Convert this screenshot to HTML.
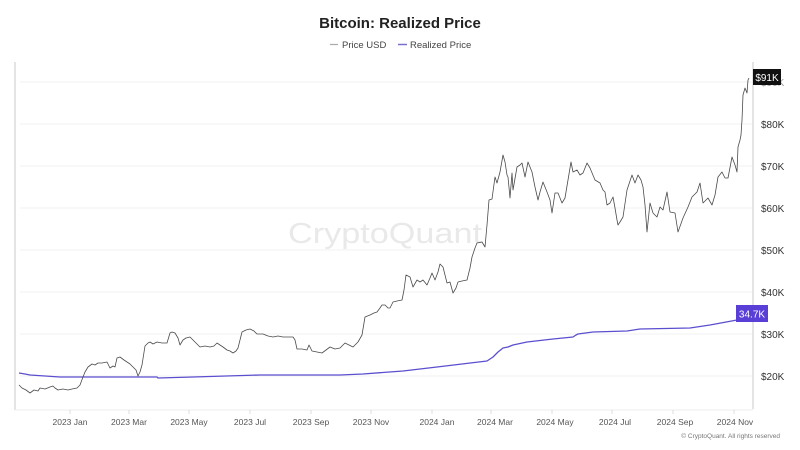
<!DOCTYPE html>
<html>
<head>
<meta charset="utf-8">
<style>
  html, body { margin: 0; padding: 0; background: #ffffff; }
  body { width: 800px; height: 450px; overflow: hidden; }
  svg { display: block; }
  text { font-family: "Liberation Sans", Arial, sans-serif; }
</style>
</head>
<body>
<svg width="800" height="450" viewBox="0 0 800 450" xmlns="http://www.w3.org/2000/svg">
  <rect x="0" y="0" width="800" height="450" fill="#ffffff"/>

  <!-- Title -->
  <text x="400" y="28" text-anchor="middle" font-size="15" font-weight="bold" fill="#222222">Bitcoin: Realized Price</text>

  <!-- Legend -->
  <line x1="330" y1="44.5" x2="338" y2="44.5" stroke="#aaaaaa" stroke-width="1.2"/>
  <text x="342" y="48" font-size="9.5" fill="#444444">Price USD</text>
  <line x1="398" y1="44.5" x2="407" y2="44.5" stroke="#7a70c9" stroke-width="1.5"/>
  <text x="410" y="48" font-size="9.5" fill="#444444">Realized Price</text>

  <!-- Grid lines -->
  <g stroke="#f1f1f1" stroke-width="1">
    <line x1="20" y1="82" x2="752" y2="82"/>
    <line x1="20" y1="124" x2="752" y2="124"/>
    <line x1="20" y1="166" x2="752" y2="166"/>
    <line x1="20" y1="208" x2="752" y2="208"/>
    <line x1="20" y1="250" x2="752" y2="250"/>
    <line x1="20" y1="292" x2="752" y2="292"/>
    <line x1="20" y1="334" x2="752" y2="334"/>
    <line x1="20" y1="376" x2="752" y2="376"/>
  </g>

  <!-- Plot borders -->
  <line x1="15" y1="62" x2="15" y2="410" stroke="#e4e4e4" stroke-width="2"/>
  <line x1="753" y1="62" x2="753" y2="409" stroke="#e4e4e4" stroke-width="2"/>
  <line x1="15" y1="410" x2="753" y2="410" stroke="#ececec" stroke-width="1"/>

  <!-- X ticks -->
  <g stroke="#dddddd" stroke-width="1">
    <line x1="70" y1="410" x2="70" y2="414"/>
    <line x1="129" y1="410" x2="129" y2="414"/>
    <line x1="189" y1="410" x2="189" y2="414"/>
    <line x1="250" y1="410" x2="250" y2="414"/>
    <line x1="311" y1="410" x2="311" y2="414"/>
    <line x1="371" y1="410" x2="371" y2="414"/>
    <line x1="432" y1="410" x2="432" y2="414"/>
    <line x1="491" y1="410" x2="491" y2="414"/>
    <line x1="552" y1="410" x2="552" y2="414"/>
    <line x1="612" y1="410" x2="612" y2="414"/>
    <line x1="673" y1="410" x2="673" y2="414"/>
    <line x1="734" y1="410" x2="734" y2="414"/>
  </g>

  <!-- X labels -->
  <g font-size="8.5" fill="#555555" text-anchor="middle">
    <text x="70" y="425">2023 Jan</text>
    <text x="129" y="425">2023 Mar</text>
    <text x="189" y="425">2023 May</text>
    <text x="250" y="425">2023 Jul</text>
    <text x="311" y="425">2023 Sep</text>
    <text x="371" y="425">2023 Nov</text>
    <text x="437" y="425">2024 Jan</text>
    <text x="495" y="425">2024 Mar</text>
    <text x="555" y="425">2024 May</text>
    <text x="615" y="425">2024 Jul</text>
    <text x="675" y="425">2024 Sep</text>
    <text x="735" y="425">2024 Nov</text>
  </g>

  <!-- Copyright -->
  <text x="780" y="438" text-anchor="end" font-size="6.5" fill="#777777">© CryptoQuant. All rights reserved</text>

  <!-- Y labels -->
  <g font-size="10" fill="#333333">
    <text x="761" y="128">$80K</text>
    <text x="761" y="170">$70K</text>
    <text x="761" y="212">$60K</text>
    <text x="761" y="254">$50K</text>
    <text x="761" y="296">$40K</text>
    <text x="761" y="338">$30K</text>
    <text x="761" y="380">$20K</text>
    <text x="761" y="86" fill="#999999">$90K</text>
  </g>

  <!-- Watermark -->
  <text x="288" y="243" font-size="29" fill="#e9e9e9" textLength="194" lengthAdjust="spacingAndGlyphs">CryptoQuant</text>

  <!-- Realized price line -->
  <polyline fill="none" stroke="#5b4fcf" stroke-width="1.3" stroke-linejoin="round"
    points="19,373 25,374 30,375 45,376 60,377 83,377 140,377 157,377 158,378 193,377 260,375 340,375 363,374 403,371 437,367 487,361 490,359 493,357 498,352 503,348 508,347 513,345 527,342 553,339 573,337 576,335 578,334 593,332 627,331 640,329 690,328 710,325 737,320"/>

  <!-- Price USD line -->
  <polyline fill="none" stroke="#4a4a4a" stroke-width="0.8" stroke-linejoin="round"
    points="19,385 22,388 26,390 30,393 34,390 38,391 40,388 45,389 50,387 53,386 55,388 58,390 63,389 68,390 72,389 77,388 80,385 83,377 85,372 88,367 92,364 95,365 98,363 102,363 107,362 110,368 113,366 115,367 117,358 120,357 124,360 127,362 130,364 133,367 136,370 138,376 140,372 142,365 145,346 148,343 150,342 153,344 157,342 162,343 167,343 170,333 172,332 175,333 178,338 180,345 183,340 186,338 190,337 193,340 195,342 198,345 200,347 205,346 210,347 214,346 217,343 220,345 223,347 227,350 230,351 233,353 236,351 238,348 240,340 242,332 246,330 250,329 254,331 257,334 260,334 263,334 268,336 273,337 278,336 283,337 288,337 293,337 295,340 297,349 302,349 307,350 309,345 312,351 317,352 322,353 326,350 330,347 335,349 340,348 345,343 349,345 353,347 358,342 362,335 365,317 370,315 374,313 377,312 380,308 382,305 385,305 388,308 390,308 393,302 397,301 402,300 404,290 406,275 410,277 413,287 417,280 420,282 423,280 427,285 430,278 432,273 435,280 438,272 440,264 443,267 445,275 447,283 450,282 453,293 456,288 458,282 462,281 467,280 470,268 472,257 475,248 477,243 482,242 485,247 487,225 489,200 492,199 495,177 497,183 500,172 503,155 505,162 507,175 508,177 510,198 512,173 513,190 517,167 520,165 522,163 525,177 528,162 532,172 535,187 538,200 540,192 543,182 547,192 550,200 552,213 555,193 558,193 562,203 565,198 568,180 571,162 573,172 577,170 580,175 583,173 587,163 590,168 595,180 600,183 603,190 605,192 607,205 610,203 613,197 615,208 617,220 618,225 620,222 623,217 627,190 632,175 635,183 638,175 641,180 643,187 645,205 647,232 650,203 653,213 657,217 660,207 663,210 667,192 670,212 675,213 678,232 683,218 688,207 692,197 697,192 700,183 703,203 708,198 712,205 715,195 718,177 722,172 725,178 728,178 732,157 735,165 737,172 738,147 740,140 741,135 742,120 743,95 745,88 747,93 748,80 749,78"/>

  <!-- Price badge -->
  <rect x="753" y="69" width="28" height="16" fill="#111111"/>
  <text x="767" y="81" text-anchor="middle" font-size="10" fill="#ffffff">$91K</text>

  <!-- Realized badge -->
  <rect x="736" y="305" width="32" height="17" fill="#5a3fd6"/>
  <text x="752" y="317.5" text-anchor="middle" font-size="10" fill="#ffffff">34.7K</text>
</svg>
</body>
</html>
